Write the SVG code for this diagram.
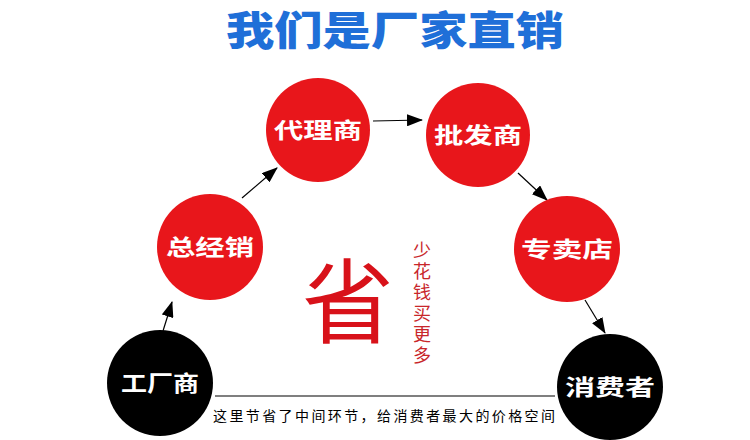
<svg xmlns="http://www.w3.org/2000/svg" width="750" height="440" viewBox="0 0 750 440">
<style>
.red{fill:#e8161b}
.blk{fill:#000}
.lbl{font-family:"Noto Sans CJK SC",sans-serif;font-weight:bold;font-size:22px;fill:#fff;text-anchor:middle}
.con{stroke:#000;stroke-width:1.2;fill:none}
</style>
<defs>
<marker id="ah" markerUnits="userSpaceOnUse" markerWidth="16" markerHeight="12" refX="15" refY="6" orient="auto">
<path d="M0,0 L16,6 L0,12 Z" fill="#000"/>
</marker>
</defs>
<rect width="750" height="440" fill="#fff"/>
<text x="395" y="45" font-family="Noto Sans CJK SC,sans-serif" font-weight="900" font-size="40" fill="#1f6fd8" text-anchor="middle" textLength="338" lengthAdjust="spacingAndGlyphs">我们是厂家直销</text>
<g id="connectors">
<line class="con" x1="163" y1="331" x2="172" y2="302" marker-end="url(#ah)"/>
<line class="con" x1="242" y1="198" x2="277" y2="168" marker-end="url(#ah)"/>
<line class="con" x1="373" y1="121" x2="422" y2="120" marker-end="url(#ah)"/>
<line class="con" x1="518" y1="173" x2="547" y2="200" marker-end="url(#ah)"/>
<line class="con" x1="585" y1="300" x2="605" y2="333" marker-end="url(#ah)"/>
<line class="con" x1="215" y1="396" x2="555" y2="396"/>
</g>
<g id="n-zongjingxiao"><circle class="red" cx="210" cy="247" r="53"/><text class="lbl" x="210" y="255" textLength="88" lengthAdjust="spacingAndGlyphs">总经销</text></g>
<g id="n-dailishang"><circle class="red" cx="318" cy="130" r="52"/><text class="lbl" x="318" y="138" textLength="88" lengthAdjust="spacingAndGlyphs">代理商</text></g>
<g id="n-pifashang"><circle class="red" cx="478" cy="135" r="52"/><text class="lbl" x="478" y="143" textLength="88" lengthAdjust="spacingAndGlyphs">批发商</text></g>
<g id="n-zhuanmaidian"><circle class="red" cx="567" cy="249" r="53"/><text class="lbl" x="567" y="257" textLength="92" lengthAdjust="spacingAndGlyphs">专卖店</text></g>
<g id="n-gongchangshang"><circle class="blk" cx="160" cy="383" r="53"/><text class="lbl" x="160" y="391" textLength="78" lengthAdjust="spacingAndGlyphs">工厂商</text></g>
<g id="n-xiaofeizhe"><circle class="blk" cx="610" cy="387" r="53"/><text class="lbl" x="610" y="395" textLength="90" lengthAdjust="spacingAndGlyphs">消费者</text></g>
<text x="348" y="336" font-family="Noto Sans CJK SC,serif" font-size="92" fill="#d8121a" text-anchor="middle">省</text>
<text x="422" y="241" font-family="Noto Sans CJK SC,sans-serif" font-size="18" fill="#c8262a" writing-mode="tb" letter-spacing="3">少花钱买更多</text>
<text x="213" y="421" font-family="Noto Sans CJK SC,sans-serif" font-size="14" fill="#000" textLength="342" lengthAdjust="spacing">这里节省了中间环节，给消费者最大的价格空间</text>
</svg>
